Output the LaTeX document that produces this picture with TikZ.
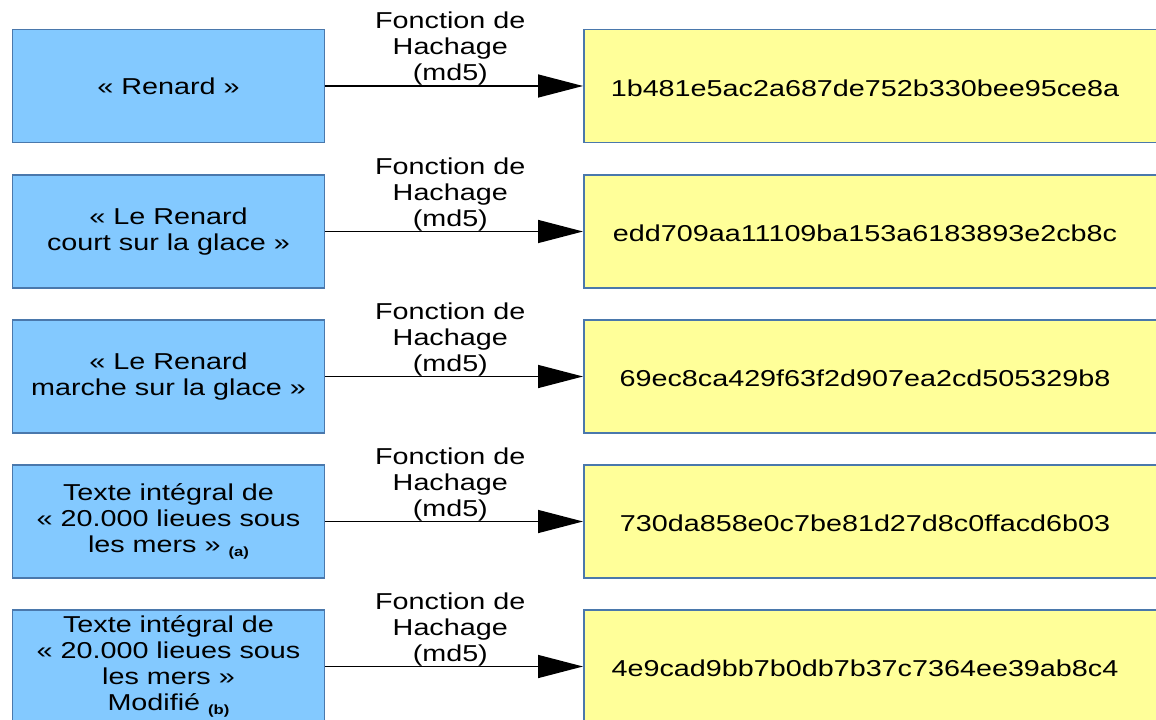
\documentclass[tikz,border=0pt]{standalone}
\usepackage{fontspec}
\setmainfont{Liberation Sans}[FakeStretch=1.25]
\usetikzlibrary{arrows.meta}

\definecolor{srcblue}{HTML}{83C9FF}
\definecolor{hashyellow}{HTML}{FFFF99}
\definecolor{boxborder}{HTML}{4A78AC}
\newcommand\boxfont{\fontsize{17.25}{19.5}\selectfont}
\newcommand\smallref[1]{\raisebox{-3pt}{\fontsize{10}{10}\selectfont\bfseries(#1)}}

\begin{document}
\begin{tikzpicture}
[x=0.75pt,y=-0.75pt,
  srcdecorate/.style={shape=rectangle,draw=boxborder,line width=1.2pt,fill=srcblue,%
    minimum width=234pt,minimum height=84.75pt,inner sep=0pt,align=center,font=\boxfont},
  hashdecorate/.style={shape=rectangle,draw=boxborder,line width=1.2pt,fill=hashyellow,%
    minimum width=444pt,minimum height=84.75pt,anchor=west},
  textdecorate/.style={inner sep=0pt,font=\boxfont},
  labeldecorate/.style={above,inner sep=0pt,align=center,font=\boxfont},
  linedecorate/.style={-{Triangle[length=33.75pt,width=17.25pt]},line width=1.1pt}]
\useasboundingbox (0,0) rectangle (1156,720);
%% source texts and hash boxes
\foreach \nodename/\y/\intext/\hash in {
  1/88/{« Renard »}/1b481e5ac2a687de752b330bee95ce8a,
  2/233.5/{« Le Renard\\court sur la glace »}/edd709aa11109ba153a6183893e2cb8c,
  3/378.5/{« Le Renard\\marche sur la glace »}/69ec8ca429f63f2d907ea2cd505329b8,
  4/523.5/{Texte intégral de\\« 20.000 lieues sous\\les mers » \smallref{a}}/730da858e0c7be81d27d8c0ffacd6b03,
  5/668.5/{Texte intégral de\\« 20.000 lieues sous\\les mers »\\Modifié \smallref{b}}/4e9cad9bb7b0db7b37c7364ee39ab8c4}
{
  \node (src\nodename) at (168.5,\y-2) [srcdecorate] {\intext};
  \node (hbox\nodename) at (583,\y-2) [hashdecorate] {};
  \node (hash\nodename) at (865,\y) [textdecorate] {\hash};
}
%% hash function arrows
\path
\foreach \nodename in {1,2,3,4,5}
{
  (src\nodename) edge[linedecorate] node[labeldecorate,pos=0.485] (fn\nodename) {Fonction de\\Hachage\\(md5)} (hbox\nodename)
};
\end{tikzpicture}
\end{document}
